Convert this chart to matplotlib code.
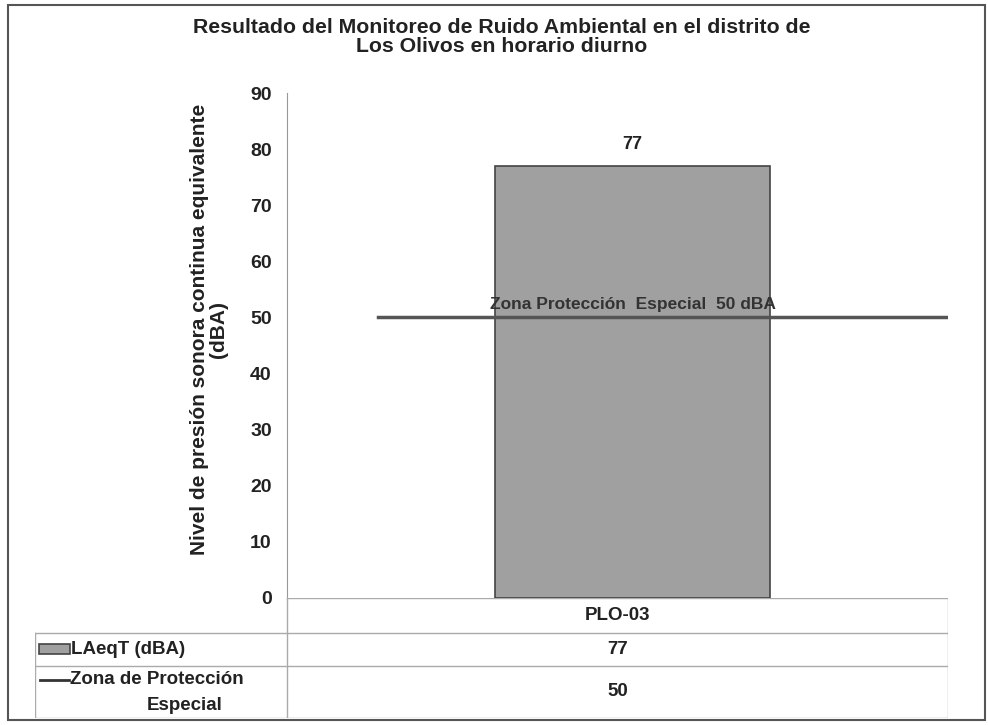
import matplotlib.pyplot as plt
from matplotlib.patches import Rectangle
from matplotlib.lines import Line2D

plt.rcParams['font.family'] = ['Liberation Sans', 'DejaVu Sans']

stations = ["PLO-03"]
laeq = [77]
limit = [50]
limit_label = "Zona Protección  Especial  50 dBA"
title = "Resultado del Monitoreo de Ruido Ambiental en el distrito de\nLos Olivos en horario diurno"
ylabel = "Nivel de presión sonora continua equivalente\n(dBA)"
yticks = [0, 10, 20, 30, 40, 50, 60, 70, 80, 90]

W, H = 988, 725
fig = plt.figure(figsize=(W / 100, H / 100), dpi=100)

# outer frame
fig.add_artist(Rectangle((8 / W, 5 / H), 977 / W, 715 / H, transform=fig.transFigure,
                         fill=False, edgecolor='#555555', linewidth=1.5))

ax = fig.add_axes([287 / W, 1 - 598 / H, 661 / W, 505 / H])
x = list(range(len(stations)))
ax.bar(x, laeq, width=0.416, color='#a0a0a0', edgecolor='#444444', linewidth=1.2, zorder=2)
for xi, v in zip(x, laeq):
    ax.text(xi, v + 2.3, str(v), ha='center', va='bottom', fontsize=13, fontweight='bold', color='#222222')

ax.set_xlim(-0.523, 0.477)
ax.set_ylim(0, 90)
ax.set_yticks(yticks)
ax.set_yticklabels([str(t) for t in yticks], fontsize=14, fontweight='bold', color='#222222')
ax.tick_params(axis='y', length=0, pad=11)
ax.set_xticks([])
for s in ['top', 'right', 'bottom']:
    ax.spines[s].set_visible(False)
ax.spines['left'].set_color('#999999')

# limit line
ax.plot([-0.385, 0.477], [limit[0], limit[0]], color='#555555', linewidth=2.5, zorder=3)
ax.text(0.0, limit[0] + 0.9, limit_label, ha='center', va='bottom', fontsize=12.5,
        fontweight='bold', color='#333333', zorder=4)

ax.set_ylabel(ylabel, fontsize=15, fontweight='bold', color='#222222', linespacing=1.0)
ax.yaxis.set_label_coords(-0.09, 0.531)
fig.text(502 / W, 1 - 37 / H, title, ha='center', va='center', fontsize=15.3,
         fontweight='bold', color='#222222', linespacing=1.05)

# data table
tab = fig.add_axes([35 / W, 1 - 718 / H, 913 / W, 120 / H])
tab.set_xlim(35, 948)
tab.set_ylim(718, 598)
tab.axis('off')
gc = '#aaaaaa'
col_x = 287
rows = [598, 633, 666, 718]
tab.plot([col_x, 948], [598, 598], color=gc, lw=1)
tab.plot([col_x, col_x], [598, 718], color=gc, lw=1)
tab.plot([948, 948], [598, 718], color=gc, lw=1)
for y in rows[1:]:
    tab.plot([35, 948], [y, y], color=gc, lw=1)
tab.plot([35, 35], [633, 718], color=gc, lw=1)

cx = (col_x + 948) / 2
tab.text(cx, (598 + 633) / 2, stations[0], ha='center', va='center', fontsize=13.5,
         fontweight='bold', color='#222222')
tab.text(cx, (633 + 666) / 2, str(laeq[0]), ha='center', va='center', fontsize=13.5,
         fontweight='bold', color='#222222')
tab.text(cx, (666 + 718) / 2, str(limit[0]), ha='center', va='center', fontsize=13.5,
         fontweight='bold', color='#222222')

tab.add_patch(Rectangle((39, 644), 31, 10, facecolor='#a0a0a0', edgecolor='#444444', lw=1.2))
tab.text(71, 649, "LAeqT (dBA)", ha='left', va='center', fontsize=13.5, fontweight='bold',
         color='#222222')
tab.add_line(Line2D([40, 69], [680, 680], color='#333333', lw=2))
tab.text(70, 680, "Zona de Protección", ha='left', va='center', fontsize=13.5,
         fontweight='bold', color='#222222')
tab.text(185, 705, "Especial", ha='center', va='center', fontsize=13.5,
         fontweight='bold', color='#222222')

fig.savefig("out.png", dpi=100)
